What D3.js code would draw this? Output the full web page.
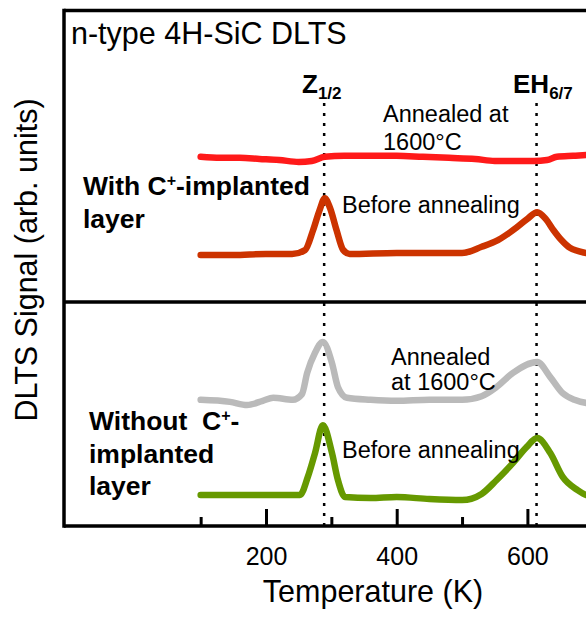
<!DOCTYPE html>
<html>
<head>
<meta charset="utf-8">
<script src="https://cdn.jsdelivr.net/npm/d3@7"></script>
<style>
  html, body { margin: 0; padding: 0; background: #fff; }
  svg { display: block; font-family: "Liberation Sans", Arial, Helvetica, sans-serif; }
</style>
</head>
<body>
<svg id="chart" width="586" height="617"></svg>
<script>
// temperature (K) vs DLTS signal (arb. units, curves are offset)
const withCAnnealed = [[100,71.6],[130,71.4],[160,71.4],[190,71.2],[220,71.0],[250,70.6],[270,70.8],[290,71.6],[320,71.8],[360,71.8],[400,71.8],[440,71.6],[480,71.4],[520,71.2],[550,70.8],[580,70.8],[610,70.8],[630,71.0],[645,71.6],[670,71.8],[700,72.0],[720,72.0]];
const withCBefore = [[100,52.6],[150,52.6],[200,52.8],[240,52.8],[260,53.6],[272,57.4],[282,61.3],[290,63.6],[298,61.7],[308,57.4],[318,53.6],[328,52.8],[400,53.0],[450,53.0],[500,53.0],[530,54.2],[555,55.5],[578,57.4],[600,59.6],[615,60.9],[628,59.6],[640,57.4],[652,55.5],[665,54.0],[690,53.0],[720,52.6]];
const withoutCAnnealed = [[100,24.6],[145,24.2],[171,23.6],[195,24.4],[211,25.0],[241,24.6],[255,25.7],[263,29.8],[275,33.7],[287,35.8],[301,31.7],[310,27.1],[324,25.0],[360,24.6],[400,24.4],[450,24.6],[500,24.6],[530,25.3],[553,27.1],[578,29.8],[615,31.9],[635,29.0],[654,25.9],[672,24.6],[690,24.0],[720,23.8]];
const withoutCBefore = [[100,6.2],[200,6.2],[252,6.2],[264,9.7],[275,14.3],[287,19.7],[301,14.3],[310,9.1],[321,5.8],[360,5.6],[400,5.8],[450,5.4],[500,5.2],[530,6.4],[553,9.1],[578,12.4],[599,15.5],[615,17.2],[635,14.3],[654,9.7],[676,7.2],[690,6.2],[720,5.8]];

const majorTicks = [200, 400, 600];
const minorTicks = [100, 300, 500, 700];
const peakTemps = [289, 614];

const svg = d3.select("#chart");
const frameL = 64, frameT = 10.5, frameR = 640, frameB = 526, divider = 302;

const x = d3.scaleLinear().domain([200, 600]).range([266, 527.4]);
const y = d3.scaleLinear().domain([0, 100]).range([527, 10]);

svg.append("defs").append("clipPath").attr("id", "plot")
  .append("rect").attr("x", frameL).attr("y", frameT).attr("width", frameR - frameL).attr("height", frameB - frameT);

// dotted guide lines at the peaks
svg.selectAll("line.guide")
  .data(peakTemps)
  .enter().append("line")
  .attr("class", "guide")
  .attr("x1", d => x(d)).attr("x2", d => x(d))
  .attr("y1", 103).attr("y2", frameB)
  .attr("stroke", "#000")
  .attr("stroke-width", 2.5)
  .attr("stroke-dasharray", "3,7");

const line = d3.line()
  .x(d => x(d[0]))
  .y(d => y(d[1]))
  .curve(d3.curveMonotoneX);

const series = [
  { data: withCAnnealed, color: "#ff1a1a" },
  { data: withCBefore, color: "#cc3300" },
  { data: withoutCAnnealed, color: "#bababa" },
  { data: withoutCBefore, color: "#669900" }
];

svg.append("g").attr("clip-path", "url(#plot)")
  .selectAll("path")
  .data(series)
  .enter().append("path")
  .attr("d", d => line(d.data))
  .attr("fill", "none")
  .attr("stroke", d => d.color)
  .attr("stroke-width", 6.5)
  .attr("stroke-linejoin", "round")
  .attr("stroke-linecap", "round");

// frame
const frame = svg.append("g").attr("stroke", "#000").attr("stroke-width", 3.5);
frame.append("line").attr("x1", frameL).attr("x2", frameL).attr("y1", frameT - 1.75).attr("y2", frameB + 1.75);
frame.append("line").attr("x1", frameL).attr("x2", frameR).attr("y1", frameT).attr("y2", frameT);
frame.append("line").attr("x1", frameL).attr("x2", frameR).attr("y1", divider).attr("y2", divider);
frame.append("line").attr("x1", frameL).attr("x2", frameR).attr("y1", frameB).attr("y2", frameB);

// axes
const major = svg.append("g")
  .attr("transform", `translate(0,${frameB})`)
  .call(d3.axisBottom(x).tickValues(majorTicks).tickSize(-17).tickPadding(21));
const minor = svg.append("g")
  .attr("transform", `translate(0,${frameB})`)
  .call(d3.axisBottom(x).tickValues(minorTicks).tickSize(-9).tickFormat(""));
[major, minor].forEach(g => {
  g.select(".domain").remove();
  g.selectAll(".tick line").attr("stroke", "#000").attr("stroke-width", 3);
});
major.selectAll(".tick text")
  .attr("font-family", "Liberation Sans, Arial, sans-serif")
  .attr("font-size", 25)
  .attr("fill", "#000");

svg.append("text")
  .attr("x", 373).attr("y", 602)
  .attr("text-anchor", "middle")
  .attr("font-size", 30.5)
  .text("Temperature (K)");

svg.append("text")
  .attr("transform", "translate(37,260) rotate(-90)")
  .attr("text-anchor", "middle")
  .attr("font-size", 30.5)
  .text("DLTS Signal (arb. units)");

svg.append("text")
  .attr("x", 71).attr("y", 44)
  .attr("font-size", 30.5)
  .text("n-type 4H-SiC DLTS");

// peak labels
function peakLabel(px, main, sub) {
  const t = svg.append("text").attr("x", px).attr("y", 93)
    .attr("font-size", 26).attr("font-weight", "bold");
  t.append("tspan").text(main);
  t.append("tspan").attr("dy", 6).attr("font-size", 17).text(sub);
}
peakLabel(302, "Z", "1/2");
peakLabel(513, "EH", "6/7");

// curve annotations
const notes = [
  { x: 383, y: 122, t: "Annealed at" },
  { x: 383, y: 150, t: "1600°C" },
  { x: 342, y: 213, t: "Before annealing" },
  { x: 391, y: 365, t: "Annealed" },
  { x: 391, y: 390, t: "at 1600°C" },
  { x: 342, y: 458, t: "Before annealing" }
];
svg.selectAll("text.note")
  .data(notes)
  .enter().append("text")
  .attr("class", "note")
  .attr("x", d => d.x).attr("y", d => d.y)
  .attr("font-size", 23.5)
  .text(d => d.t);

const boldSize = 26.5;
function boldLabel(px, py, before, after) {
  const t = svg.append("text").attr("x", px).attr("y", py)
    .attr("font-size", boldSize).attr("font-weight", "bold")
    .attr("xml:space", "preserve");
  t.append("tspan").text(before);
  t.append("tspan").attr("dy", -9).attr("font-size", 16).text("+");
  t.append("tspan").attr("dy", 9).text(after);
}
boldLabel(83, 195, "With C", "-implanted");
svg.append("text").attr("x", 83).attr("y", 228).attr("font-size", boldSize).attr("font-weight", "bold").text("layer");
boldLabel(89, 430, "Without  C", "-");
svg.append("text").attr("x", 89).attr("y", 463).attr("font-size", boldSize).attr("font-weight", "bold").text("implanted");
svg.append("text").attr("x", 89).attr("y", 495).attr("font-size", boldSize).attr("font-weight", "bold").text("layer");
</script>
</body>
</html>
